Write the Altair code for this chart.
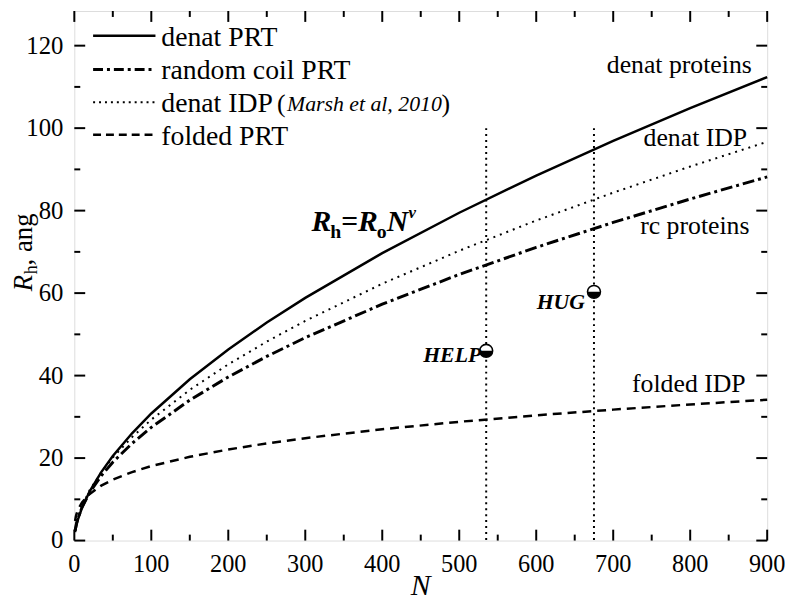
import altair as alt
import pandas as pd

FONT = "'Liberation Serif', 'Times New Roman', Times, serif"
W, H = 700, 535

# ---- curves ----
N = [1, 2, 3, 5, 10, 20, 35, 50, 75, 100, 150, 200, 250, 300, 400, 500, 600, 700, 800, 900]
denat_prt = [2.05, 3.08, 3.91, 5.28, 7.94, 11.94, 16.60, 20.49, 26.01, 30.81, 39.12, 46.34,
             52.86, 58.84, 69.71, 79.49, 88.51, 96.91, 104.85, 112.38]
rc_prt = [2.38, 3.44, 4.27, 5.59, 8.08, 11.68, 15.72, 19.00, 23.56, 27.45, 34.05, 39.67,
          44.65, 49.20, 57.31, 64.53, 71.09, 77.14, 82.82, 88.18]
denat_idp = [2.41, 3.51, 4.37, 5.77, 8.40, 12.24, 16.58, 20.13, 25.09, 29.33, 36.55, 42.73,
             48.24, 53.27, 62.27, 70.28, 77.60, 84.36, 90.69, 96.70]
folded_prt = [4.75, 5.81, 6.53, 7.58, 9.26, 11.32, 13.32, 14.77, 16.61, 18.06, 20.31, 22.08,
              23.56, 24.83, 27.00, 28.80, 30.37, 31.75, 33.00, 34.15]

# ---- proteins ----
prot_names = ["HELP", "HUG"]
prot_N = [535, 675]
prot_Rh = [46.0, 60.3]
vline_top = [100, 100]

# ---- ticks ----
x_major = list(range(0, 901, 100))
x_minor = list(range(50, 900, 100))
y_major = list(range(0, 121, 20))
y_minor = list(range(10, 121, 20))
x_tick_labels = ["0", "100", "200", "300", "400", "500", "600", "700", "800", "900"]
y_tick_labels = ["0", "20", "40", "60", "80", "100", "120"]

# ---- annotations ----
right_labels = ["denat proteins", "denat IDP", "rc proteins", "folded IDP"]
right_N = [880, 874, 877, 872]
right_Rh = [115.2, 97.7, 76.3, 37.9]

legend_labels = ["denat PRT", "random coil PRT", "denat IDP", "folded PRT"]
legend_Rh = [122.4, 114.2, 106.3, 98.4]
legend_N1, legend_N2, legend_Ntext = 24.4, 105.4, 113

xs = alt.Scale(domain=[0, 900], nice=False)
ys = alt.Scale(domain=[0, 128.4], nice=False)

curves = pd.DataFrame({"N": N, "denat": denat_prt, "rc": rc_prt, "idp": denat_idp, "fold": folded_prt})
prot = pd.DataFrame({"name": prot_names, "N": prot_N, "Rh": prot_Rh, "top": vline_top})

base = alt.Chart(curves)

def curve(field, **kw):
    return base.mark_line(color="black", **kw).encode(
        x=alt.X("N:Q", scale=xs, axis=None), y=alt.Y(f"{field}:Q", scale=ys, axis=None))

solid = curve("denat", strokeWidth=2.5)
rc = curve("rc", strokeWidth=3, strokeDash=[12, 4, 3, 4])
idp = curve("idp", strokeWidth=2, strokeDash=[2, 5])
fold = curve("fold", strokeWidth=2.5, strokeDash=[9, 6])

# tick marks (inside)
def ticks_x(vals, length, top):
    df = pd.DataFrame({"v": vals})
    if top:
        enc = dict(y=alt.value(0), y2=alt.value(length))
    else:
        enc = dict(y=alt.value(H), y2=alt.value(H - length))
    return alt.Chart(df).mark_rule(color="black", strokeWidth=2).encode(
        x=alt.X("v:Q", scale=xs, axis=None), **enc)

def ticks_y(vals, length, right):
    df = pd.DataFrame({"v": vals})
    if right:
        enc = dict(x=alt.value(W), x2=alt.value(W - length))
    else:
        enc = dict(x=alt.value(0), x2=alt.value(length))
    return alt.Chart(df).mark_rule(color="black", strokeWidth=2).encode(
        y=alt.Y("v:Q", scale=ys, axis=None), **enc)

tick_layers = [ticks_x(x_major, 11, False), ticks_x(x_minor, 6, False),
               ticks_x(x_major, 11, True), ticks_x(x_minor, 6, True),
               ticks_y(y_major, 11, False), ticks_y(y_minor, 6, False),
               ticks_y(y_major, 11, True), ticks_y(y_minor, 6, True)]

# tick labels
xl = pd.DataFrame({"v": x_major, "lab": x_tick_labels})
yl = pd.DataFrame({"v": y_major, "lab": y_tick_labels})
x_labels = alt.Chart(xl).mark_text(font=FONT, fontSize=24.5, align="center", baseline="top",
                                   color="black").encode(
    x=alt.X("v:Q", scale=xs, axis=None), y=alt.value(H + 13), text="lab:N")
y_labels = alt.Chart(yl).mark_text(font=FONT, fontSize=25, align="right", baseline="middle",
                                   color="black").encode(
    y=alt.Y("v:Q", scale=ys, axis=None), x=alt.value(-11), text="lab:N")

one = pd.DataFrame({"a": [0]})
x_title = alt.Chart(one).mark_text(font=FONT, fontSize=30, fontStyle="italic", align="center",
                                   baseline="alphabetic", color="black").encode(
    x=alt.value(W / 2), y=alt.value(H + 55), text=alt.value("N"))

# vertical dotted lines and protein markers
pbase = alt.Chart(prot)
vlines = pbase.mark_rule(color="black", strokeWidth=2, strokeDash=[2, 4]).encode(
    x=alt.X("N:Q", scale=xs, axis=None), y=alt.Y("top:Q", scale=ys, axis=None), y2=alt.value(H))
penc = dict(x=alt.X("N:Q", scale=xs, axis=None), y=alt.Y("Rh:Q", scale=ys, axis=None))
white_pt = pbase.mark_point(shape="circle", filled=True, fill="white", opacity=1, size=170).encode(**penc)
half_pt = pbase.mark_point(shape="M -1 0 A 1 1 0 0 0 1 0 Z", filled=True, fill="black",
                           opacity=1, size=170, strokeWidth=0).encode(**penc)
ring_pt = pbase.mark_point(shape="circle", filled=False, stroke="black", strokeWidth=1.6,
                           opacity=1, size=170).encode(**penc)
help_lbl = pbase.transform_filter(alt.datum.name == "HELP").mark_text(
    font=FONT, fontSize=22, fontStyle="italic", fontWeight="bold", align="right",
    baseline="middle", dx=-5, dy=4, color="black").encode(text="name:N", **penc)
hug_lbl = pbase.transform_filter(alt.datum.name == "HUG").mark_text(
    font=FONT, fontSize=22, fontStyle="italic", fontWeight="bold", align="right",
    baseline="middle", dx=-9, dy=10, color="black").encode(text="name:N", **penc)

# right-side labels
rdf = pd.DataFrame({"t": right_labels, "N": right_N, "Rh": right_Rh})
rlabels = alt.Chart(rdf).mark_text(font=FONT, fontSize=26, align="right", baseline="middle",
                                   color="black").encode(
    x=alt.X("N:Q", scale=xs, axis=None), y=alt.Y("Rh:Q", scale=ys, axis=None), text="t:N")

# legend
ldf = pd.DataFrame({"t": legend_labels, "Rh": legend_Rh,
                    "N1": [legend_N1] * 4, "N2": [legend_N2] * 4, "Nt": [legend_Ntext] * 4})
lbase = alt.Chart(ldf)
dashes = [None, [10, 4, 3, 4], [2, 4], [8, 5]]
widths = [2.5, 3, 2, 2.5]
leg_lines = []
for lab, d, w in zip(legend_labels, dashes, widths):
    kw = dict(color="black", strokeWidth=w)
    if d is not None:
        kw["strokeDash"] = d
    leg_lines.append(lbase.transform_filter(alt.datum.t == lab).mark_rule(**kw).encode(
        x=alt.X("N1:Q", scale=xs, axis=None), x2="N2:Q", y=alt.Y("Rh:Q", scale=ys, axis=None)))
leg_text = lbase.mark_text(font=FONT, fontSize=28, align="left", baseline="middle",
                           color="black", dy=2).encode(
    x=alt.X("Nt:Q", scale=xs, axis=None), y=alt.Y("Rh:Q", scale=ys, axis=None), text="t:N")

idp_row = ldf[ldf.t == "denat IDP"].copy()
lenc = dict(x=alt.X("Nt:Q", scale=xs, axis=None), y=alt.Y("Rh:Q", scale=ys, axis=None))
ref_paren = alt.Chart(idp_row).mark_text(font=FONT, fontSize=26, align="left", baseline="middle",
                                         color="black", dx=117, dy=2).encode(
    text=alt.value("("), **lenc)
ref_ital = alt.Chart(idp_row).mark_text(font=FONT, fontSize=22, fontStyle="italic", align="left",
                                        baseline="middle", color="black", dx=127, dy=2).encode(
    text=alt.value("Marsh et al, 2010"), **lenc)
ref_close = alt.Chart(idp_row).mark_text(font=FONT, fontSize=26, align="left", baseline="middle",
                                         color="black", dx=283, dy=2).encode(
    text=alt.value(")"), **lenc)

# formula R_h = R_o N^nu
fdf = pd.DataFrame({"N": [308.0], "Rh": [75.1]})
fenc = dict(x=alt.X("N:Q", scale=xs, axis=None), y=alt.Y("Rh:Q", scale=ys, axis=None))
formula_parts = [("R", 30, "italic", 0, 0), ("h", 20, "normal", 19, 7), ("=", 30, "normal", 30, 0),
                 ("R", 30, "italic", 47, 0), ("o", 20, "normal", 66, 7), ("N", 30, "italic", 76, 0),
                 ("\u03bd", 17, "italic", 98, -13)]
formula = [alt.Chart(fdf).mark_text(font=FONT, fontSize=fs, fontStyle=st, fontWeight="bold",
                                    align="left", baseline="alphabetic", color="black",
                                    dx=dx, dy=dy).encode(text=alt.value(t), **fenc)
           for t, fs, st, dx, dy in formula_parts]

# y-axis title R_h, ang (rotated)
ytitle = [
    alt.Chart(one).mark_text(font=FONT, fontSize=27, fontStyle="italic", angle=270, align="left",
                             baseline="alphabetic", color="black").encode(
        x=alt.value(-43), y=alt.value(283), text=alt.value("R")),
    alt.Chart(one).mark_text(font=FONT, fontSize=18, angle=270, align="left",
                             baseline="alphabetic", color="black").encode(
        x=alt.value(-38), y=alt.value(266), text=alt.value("h")),
    alt.Chart(one).mark_text(font=FONT, fontSize=27, angle=270, align="left",
                             baseline="alphabetic", color="black").encode(
        x=alt.value(-43), y=alt.value(257), text=alt.value(", ang")),
]

chart = alt.layer(
    solid, rc, idp, fold, *tick_layers, x_labels, y_labels, x_title, vlines, white_pt, half_pt,
    ring_pt, help_lbl, hug_lbl, rlabels, *leg_lines, leg_text, ref_paren, ref_ital, ref_close,
    *formula, *ytitle
).properties(
    width=W, height=H,
    autosize=alt.AutoSizeParams(type="none"),
    padding={"left": 67, "top": 0, "right": 18, "bottom": 57},
).configure_view(stroke="black", strokeWidth=2.5).configure(background="white")

chart.save("out.html", embed_options={"renderer": "svg", "actions": False})
